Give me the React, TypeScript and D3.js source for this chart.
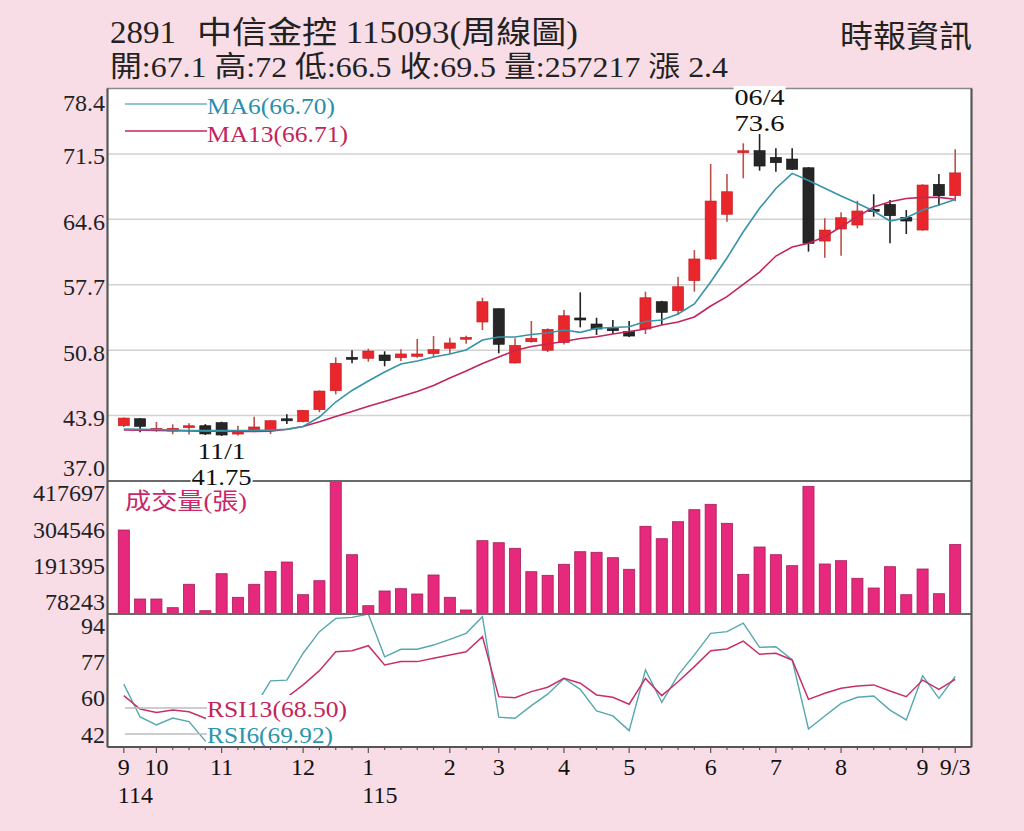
import React from "react";
import * as d3 from "d3";

// weekly candles, 114/09 .. 115/09/03
const opens = [42.83, 43.57, 42.31, 42.27, 42.7, 42.83, 43.15, 41.95, 42.3, 42.38, 43.47, 43.25, 44.52, 46.52, 49.96, 49.94, 50.29, 50.0, 50.15, 50.43, 51.0, 51.95, 53.77, 55.17, 49.45, 51.69, 50.79, 51.59, 54.11, 53.56, 53.1, 52.75, 53.03, 55.91, 54.96, 58.13, 60.42, 65.13, 71.7, 71.84, 71.14, 70.96, 70.04, 62.31, 63.58, 64.0, 65.6, 66.18, 64.81, 63.47, 68.29, 67.1];
const highs = [43.7, 43.65, 43.22, 42.98, 43.08, 43.0, 43.25, 42.83, 43.78, 43.4, 44.03, 44.5, 46.55, 50.05, 50.79, 50.95, 50.68, 50.89, 51.98, 52.29, 52.11, 52.33, 56.33, 55.2, 52.05, 53.88, 53.1, 55.04, 56.9, 54.22, 53.98, 53.88, 56.97, 56.0, 58.55, 61.36, 70.43, 69.38, 72.62, 73.6, 72.09, 72.09, 70.1, 64.71, 65.34, 66.56, 67.24, 66.64, 65.58, 68.3, 69.38, 72.0];
const lows = [42.7, 42.14, 42.2, 41.93, 41.9, 41.85, 41.75, 41.8, 42.15, 41.96, 43.0, 43.2, 44.25, 46.14, 49.41, 49.58, 49.1, 49.66, 50.0, 50.08, 50.43, 51.48, 52.93, 50.47, 49.4, 51.59, 50.6, 51.4, 53.21, 52.4, 52.5, 52.2, 52.5, 53.45, 54.51, 56.97, 60.3, 64.35, 68.93, 69.73, 69.62, 69.8, 61.19, 60.55, 60.76, 63.65, 64.88, 62.07, 63.05, 63.4, 66.04, 66.5];
const closes = [43.64, 42.76, 42.56, 42.56, 42.75, 41.96, 41.85, 42.2, 42.7, 43.36, 43.44, 44.46, 46.49, 49.42, 49.92, 50.71, 49.69, 50.4, 50.4, 50.85, 51.56, 52.16, 55.91, 51.42, 51.31, 52.05, 53.0, 54.43, 54.07, 53.03, 52.85, 52.29, 56.33, 54.79, 57.49, 60.42, 66.53, 67.51, 71.76, 70.22, 70.57, 69.88, 62.07, 63.47, 64.77, 65.48, 65.5, 64.98, 64.42, 68.22, 67.09, 69.5];
const volumes = [302500, 87300, 87300, 60200, 133200, 50800, 166200, 92600, 133200, 173700, 202700, 100700, 144400, 455400, 225500, 66400, 112300, 119400, 102900, 162200, 92600, 53000, 269200, 262900, 245400, 172500, 161200, 195500, 234800, 233000, 216100, 180000, 314100, 275400, 328400, 365900, 382700, 323400, 164300, 249500, 225500, 191200, 438800, 196500, 206800, 151900, 121600, 188100, 100700, 180900, 103800, 257217];
const ma6 = [42.48, 42.45, 42.43, 42.38, 42.33, 42.31, 42.31, 42.33, 42.33, 42.38, 42.45, 42.75, 43.75, 45.33, 46.55, 47.55, 48.5, 49.34, 49.66, 50.08, 50.4, 50.82, 51.87, 52.19, 52.19, 52.45, 52.61, 52.93, 52.68, 53.11, 53.19, 53.27, 53.82, 53.98, 54.61, 55.67, 57.99, 60.52, 63.29, 65.76, 67.85, 69.45, 68.7, 67.87, 67.06, 66.29, 65.48, 64.42, 64.77, 65.58, 66.11, 66.7];
const ma13 = [42.38, 42.35, 42.33, 42.31, 42.27, 42.25, 42.24, 42.22, 42.22, 42.25, 42.45, 42.75, 43.25, 43.8, 44.33, 44.89, 45.39, 45.91, 46.44, 47.07, 47.86, 48.6, 49.39, 50.08, 50.76, 51.19, 51.45, 51.71, 52.03, 52.22, 52.5, 52.77, 53.03, 53.45, 53.77, 54.3, 55.46, 56.44, 57.73, 59.04, 60.73, 61.68, 62.07, 62.77, 63.82, 64.88, 65.9, 66.46, 66.8, 66.92, 66.92, 66.71];
const rsi6 = [66.3, 50.6, 46.8, 50.1, 48.4, 39.2, 37.0, 40.0, 55.0, 67.8, 68.2, 81.0, 91.3, 97.6, 98.1, 99.7, 79.3, 82.9, 82.9, 84.9, 87.6, 90.5, 98.4, 50.5, 50.0, 56.0, 61.5, 69.0, 63.8, 53.5, 51.1, 44.1, 73.0, 57.6, 70.6, 80.2, 90.5, 91.3, 95.3, 83.8, 84.1, 77.8, 44.9, 51.1, 57.1, 60.0, 60.6, 53.9, 49.2, 70.3, 59.5, 69.92];
const rsi13 = [60.8, 54.4, 52.7, 53.9, 53.1, 50.0, 47.0, 48.0, 52.0, 57.0, 60.0, 65.9, 72.7, 81.7, 82.2, 84.6, 75.4, 77.0, 77.0, 78.6, 80.2, 81.7, 88.9, 60.3, 59.8, 62.7, 64.8, 69.0, 66.7, 61.1, 60.0, 56.7, 69.0, 60.8, 67.4, 74.6, 82.2, 83.0, 86.8, 80.5, 81.0, 77.8, 59.0, 61.9, 64.3, 65.4, 65.9, 63.0, 60.3, 68.2, 63.8, 68.5];

const priceTicks = [78.4, 71.5, 64.6, 57.7, 50.8, 43.9, 37.0];
const volumeTicks = [417697, 304546, 191395, 78243];
const rsiTicks = [94, 77, 60, 42];
const monthIdx = [0, 2, 6, 11, 15, 20, 23, 27, 31, 36, 40, 44, 49, 51];
const monthLabels = ["9", "10", "11", "12", "1", "2", "3", "4", "5", "6", "7", "8", "9", "9/3"];
const yearIdx = [0, 15];
const yearLabels = ["114", "115"];

const W = 1024;
const H = 831;
const LEFT = 107.5;
const RIGHT = 971.5;
const P_TOP = 88.5;
const P_BOT = 481;
const V_BOT = 614;
const R_BOT = 747;

const SERIF = "'Liberation Serif', 'DejaVu Serif', 'Noto Sans CJK TC', serif";
const TEAL = "#3594a8";
const CRIMSON = "#c2255c";
const RED = "#e8262c";
const DARK = "#262626";

export default function App() {
  const idx = d3.range(closes.length);
  const x = d3.scalePoint<number>().domain(idx).range([LEFT, RIGHT]).padding(1);
  const yP = d3.scaleLinear().domain([37, 78.4]).range([P_BOT, P_TOP]);
  const yV = d3.scaleLinear().domain([40500, 455400]).range([V_BOT, P_BOT]);
  const yR = d3.scaleLinear().domain([36.3, 99.7]).range([R_BOT, V_BOT]);
  const bw = x.step() * 0.68;

  const priceLine = d3.line<number>().x((_, i) => x(i)!).y((v) => yP(v));
  const rsiLine = d3.line<number>().x((_, i) => x(i)!).y((v) => yR(v));
  const clampY = (y: number, top: number, bot: number) => Math.max(top + 14, Math.min(bot - 13, y));

  return (
    <div style={{ position: "absolute", left: 0, top: 0 }}>
      <svg width={W} height={H} viewBox={`0 0 ${W} ${H}`} style={{ display: "block", fontFamily: SERIF }}>
        <rect width={W} height={H} fill="#f9dde6" />

        {/* header */}
        <text x={110} y={43} fontSize={31} fill="#222" textLength={66} lengthAdjust="spacingAndGlyphs">2891</text>
        <text x={197} y={43} fontSize={31} fill="#222" textLength={381} lengthAdjust="spacingAndGlyphs">中信金控 115093(周線圖)</text>
        <text x={110} y={77} fontSize={29} fill="#222" textLength={618} lengthAdjust="spacingAndGlyphs">開:67.1 高:72 低:66.5 收:69.5 量:257217 漲 2.4</text>
        <text x={840} y={47} fontSize={31} fill="#222" textLength={132} lengthAdjust="spacingAndGlyphs">時報資訊</text>

        {/* plot background */}
        <rect x={LEFT} y={P_TOP} width={RIGHT - LEFT} height={R_BOT - P_TOP} fill="#fff" />

        {/* price grid */}
        {priceTicks.slice(1, -1).map((t) => (
          <line key={t} x1={LEFT} x2={RIGHT} y1={yP(t)} y2={yP(t)} stroke="#d2d2d2" strokeWidth={1.5} />
        ))}

        {/* volume bars */}
        {volumes.map((v, i) => (
          <rect key={i} x={x(i)! - bw / 2} y={yV(v)} width={bw} height={V_BOT - yV(v)}
            fill="#e6297c" stroke="#a51f58" strokeWidth={0.8} />
        ))}

        {/* candles */}
        {idx.map((i) => {
          const up = closes[i] >= opens[i];
          const top = yP(Math.max(opens[i], closes[i]));
          const bot = yP(Math.min(opens[i], closes[i]));
          const h = Math.max(bot - top, 2);
          const cx = x(i)!;
          return (
            <g key={i}>
              <line x1={cx} x2={cx} y1={yP(highs[i])} y2={yP(lows[i])}
                stroke={up ? "#b8524a" : "#222"} strokeWidth={1.6} />
              <rect x={cx - bw / 2} y={top - (h - (bot - top)) / 2} width={bw} height={h}
                fill={up ? RED : DARK} stroke={up ? "#c01e22" : "#111"} strokeWidth={0.6} />
            </g>
          );
        })}

        {/* moving averages */}
        <path d={priceLine(ma13)!} fill="none" stroke={CRIMSON} strokeWidth={1.6} />
        <path d={priceLine(ma6)!} fill="none" stroke={TEAL} strokeWidth={1.6} />

        {/* RSI */}
        <path d={rsiLine(rsi6)!} fill="none" stroke="#55a8ae" strokeWidth={1.4} />
        <path d={rsiLine(rsi13)!} fill="none" stroke="#c8306a" strokeWidth={1.5} />

        {/* RSI legend */}
        <rect x={206} y={695} width={144} height={51} fill="#fff" />
        <line x1={125} x2={207} y1={708} y2={708} stroke="#bdbdbd" strokeWidth={1.5} />
        <line x1={125} x2={207} y1={734} y2={734} stroke="#bdbdbd" strokeWidth={1.5} />
        <text x={207} y={717} fontSize={23} fill={CRIMSON} textLength={140} lengthAdjust="spacingAndGlyphs">RSI13(68.50)</text>
        <text x={207} y={743} fontSize={23} fill="#2b95ad" textLength={126} lengthAdjust="spacingAndGlyphs">RSI6(69.92)</text>

        {/* MA legend */}
        <line x1={125} x2={207} y1={104} y2={104} stroke="#6cb3bf" strokeWidth={1.5} />
        <line x1={125} x2={207} y1={131} y2={131} stroke={CRIMSON} strokeWidth={1.5} />
        <text x={207} y={114} fontSize={24} fill="#2b8fab" textLength={128} lengthAdjust="spacingAndGlyphs">MA6(66.70)</text>
        <text x={207} y={142} fontSize={24} fill={CRIMSON} textLength={141} lengthAdjust="spacingAndGlyphs">MA13(66.71)</text>

        {/* volume legend */}
        <text x={125} y={509} fontSize={23} fill="#c8286a" textLength={122} lengthAdjust="spacingAndGlyphs">成交量(張)</text>

        {/* frame and panel separators */}
        <rect x={LEFT} y={P_TOP} width={RIGHT - LEFT} height={R_BOT - P_TOP} fill="none" stroke="#8a8a8a" strokeWidth={1.5} />
        <line x1={LEFT} x2={RIGHT} y1={P_BOT} y2={P_BOT} stroke="#6a6a6a" strokeWidth={2} />
        <line x1={LEFT} x2={RIGHT} y1={V_BOT} y2={V_BOT} stroke="#6a6a6a" strokeWidth={2} />
        <line x1={LEFT} x2={RIGHT} y1={R_BOT} y2={R_BOT} stroke="#555" strokeWidth={2} />
        <line x1={RIGHT} x2={RIGHT} y1={P_TOP} y2={R_BOT} stroke="#555" strokeWidth={2} />
        <line x1={LEFT} x2={LEFT} y1={P_TOP} y2={R_BOT} stroke="#555" strokeWidth={2} />

        {/* high / low annotations */}
        <rect x={x(6)! - 31} y={438} width={62} height={49} fill="#fff" />
        <text x={x(6)!} y={459} fontSize={23} textAnchor="middle" fill="#111" textLength={48} lengthAdjust="spacingAndGlyphs">11/1</text>
        <text x={x(6)!} y={485} fontSize={23} textAnchor="middle" fill="#111" textLength={60} lengthAdjust="spacingAndGlyphs">41.75</text>
        <rect x={x(39)! - 26} y={86} width={52} height={47} fill="#fff" />
        <text x={x(39)!} y={105} fontSize={23} textAnchor="middle" fill="#111" textLength={50} lengthAdjust="spacingAndGlyphs">06/4</text>
        <text x={x(39)!} y={131} fontSize={23} textAnchor="middle" fill="#111" textLength={50} lengthAdjust="spacingAndGlyphs">73.6</text>

        {/* y labels */}
        {priceTicks.map((t) => (
          <text key={t} x={105} y={clampY(yP(t) + 2, P_TOP, P_BOT)} dy="0.35em" fontSize={24}
            textAnchor="end" fill="#222">{t.toFixed(1)}</text>
        ))}
        {volumeTicks.map((t) => (
          <text key={t} x={105} y={yV(t)} dy="0.35em" fontSize={24} textAnchor="end" fill="#222">{t}</text>
        ))}
        {rsiTicks.map((t) => (
          <text key={t} x={105} y={yR(t)} dy="0.35em" fontSize={24} textAnchor="end" fill="#222">{t}</text>
        ))}

        {/* x ticks */}
        {idx.map((i) => (
          <line key={i} x1={x(i)!} x2={x(i)!} y1={R_BOT} y2={R_BOT + (monthIdx.includes(i) ? 6 : 3)}
            stroke="#555" strokeWidth={1.2} />
        ))}
        {monthIdx.map((m, k) => (
          <text key={k} x={x(m)!} y={775} fontSize={24} textAnchor="middle" fill="#111">{monthLabels[k]}</text>
        ))}
        {yearIdx.map((m, k) => (
          <text key={k} x={x(m)! - 6} y={803} fontSize={24} fill="#111">{yearLabels[k]}</text>
        ))}
      </svg>
    </div>
  );
}
